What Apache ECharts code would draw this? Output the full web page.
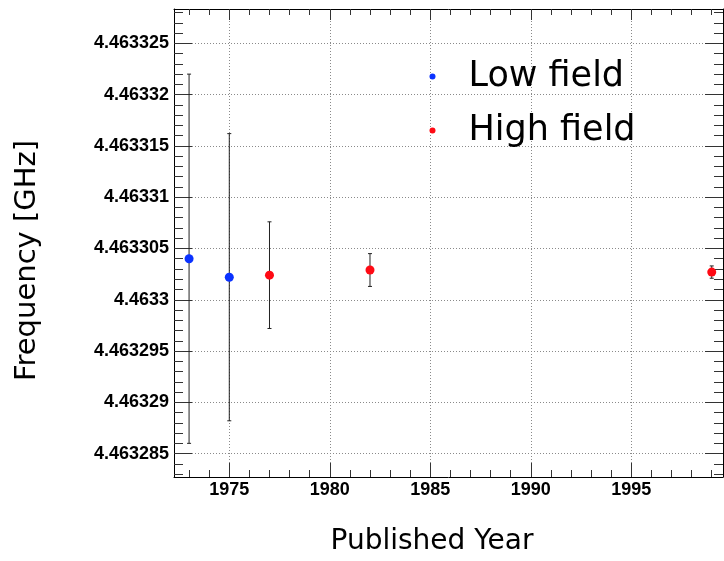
<!DOCTYPE html>
<html><head><meta charset="utf-8">
<script src="https://cdn.jsdelivr.net/npm/echarts@6/dist/echarts.min.js"></script>
<style>html,body{margin:0;padding:0;background:#fff}#c{width:724px;height:561px}</style>
</head><body><div id="c"></div>
<script>
// ---- data ----
const lowYears = [1973, 1975];
const lowFreq = [4.463304, 4.4633022];
const lowErr = [0.000018, 0.000014];
const highYears = [1977, 1982, 1999];
const highFreq = [4.4633024, 4.4633029, 4.4633027];
const highErr = [0.0000052, 0.0000016, 0.0000006];
const xTickLabels = [1975, 1980, 1985, 1990, 1995];
const yTickLabels = ['4.463285', '4.46329', '4.463295', '4.4633', '4.463305', '4.46331', '4.463315', '4.46332', '4.463325'];
const seriesNames = ['Low field', 'High field'];
// ---- axis ranges / tick positions ----
const xRange = [1972.25, 1999.56];
const yRange = [4.46328272, 4.46332835];
const xMajor = xTickLabels.slice();
const xMinor = [];
for (let yr = 1973; yr <= 1999; yr++) xMinor.push(yr);
const yMajor = yTickLabels.map(Number);
const yMinor = [];
for (let k = 4463283; k <= 4463328; k++) yMinor.push(k / 1e6);

const blue = '#0a32ff', red = '#ff0a14';
const tickColor = '#333';
function fmtY(v) { return String(parseFloat(Number(v).toFixed(6))); }
function fmtX(v) { return String(Math.round(v)); }

function xAx(pos, ticks, len, opts) {
  return Object.assign({
    type: 'value', position: pos, min: xRange[0], max: xRange[1], splitNumber: 5,
    axisLine: { show: false, onZero: false },
    axisTick: { show: true, inside: true, length: len, customValues: ticks, lineStyle: { color: tickColor, width: 1 } },
    axisLabel: { show: false },
    splitLine: { show: false }
  }, opts || {});
}
function yAx(pos, ticks, len, opts) {
  return Object.assign({
    type: 'value', position: pos, min: yRange[0], max: yRange[1], splitNumber: 9, scale: true,
    axisLine: { show: false, onZero: false },
    axisTick: { show: true, inside: true, length: len, customValues: ticks, lineStyle: { color: tickColor, width: 1 } },
    axisLabel: { show: false },
    splitLine: { show: false }
  }, opts || {});
}

const errData = lowYears.map((x, i) => [x, lowFreq[i], lowErr[i]])
  .concat(highYears.map((x, i) => [x, highFreq[i], highErr[i]]));

const chart = echarts.init(document.getElementById('c'), null, { renderer: 'canvas' });
chart.setOption({
  animation: false,
  backgroundColor: '#fff',
  grid: { left: 174, top: 9, right: 1, bottom: 84, containLabel: false, outerBoundsMode: 'none' },
  xAxis: [
    xAx('bottom', xMajor, 14, {
      axisLine: { show: true, onZero: false, lineStyle: { color: '#000', width: 1 } },
      axisLabel: { show: true, customValues: xMajor, margin: 4, fontSize: 18, fontWeight: 'bold',
        fontFamily: 'Liberation Sans, Arial, sans-serif', color: '#000', formatter: fmtX },
      splitLine: { show: true, lineStyle: { type: [1, 2], color: '#8a8a8a', width: 1 } }
    }),
    xAx('bottom', xMinor, 7),
    xAx('top', xMajor, 11, { axisLine: { show: true, onZero: false, lineStyle: { color: '#000', width: 1 } } }),
    xAx('top', xMinor, 6)
  ],
  yAxis: [
    yAx('left', yMajor, 18, {
      axisLine: { show: true, onZero: false, lineStyle: { color: '#000', width: 1 } },
      axisLabel: { show: true, customValues: yMajor, margin: 5, fontSize: 18, fontWeight: 'bold',
        fontFamily: 'Liberation Sans, Arial, sans-serif', color: '#000', formatter: fmtY },
      splitLine: { show: true, lineStyle: { type: [1, 2], color: '#8a8a8a', width: 1 } }
    }),
    yAx('left', yMinor, 9),
    yAx('right', yMajor, 18, { axisLine: { show: true, onZero: false, lineStyle: { color: '#000', width: 1 } } }),
    yAx('right', yMinor, 9)
  ],
  legend: {
    orient: 'vertical', left: 429.5, top: 59, padding: 0,
    itemWidth: 6, itemHeight: 6, itemGap: 19, icon: 'circle',
    data: seriesNames,
    textStyle: { fontSize: 35, lineHeight: 34, padding: [0, 0, 0, 28], fontFamily: 'DejaVu Sans, sans-serif', color: '#000' }
  },
  graphic: [
    { type: 'text', x: 27.5, y: 260.5, rotation: Math.PI / 2,
      style: { text: 'Frequency [GHz]', fontSize: 29, fontFamily: 'DejaVu Sans, sans-serif', fill: '#000',
        align: 'center', verticalAlign: 'middle', textAlign: 'center', textVerticalAlign: 'middle' } },
    { type: 'text', x: 432, y: 541.5,
      style: { text: 'Published Year', fontSize: 28, fontFamily: 'DejaVu Sans, sans-serif', fill: '#000',
        align: 'center', verticalAlign: 'middle', textAlign: 'center', textVerticalAlign: 'middle' } }
  ],
  series: [
    {
      type: 'custom', name: 'errors', silent: true, z: 2,
      xAxisIndex: 0, yAxisIndex: 0,
      data: errData,
      renderItem: function (params, api) {
        const x = api.value(0), y = api.value(1), e = api.value(2);
        const t = api.coord([x, y + e]), b = api.coord([x, y - e]);
        const w = 2, st = { stroke: '#222', lineWidth: 1 };
        return { type: 'group', children: [
          { type: 'line', shape: { x1: t[0], y1: t[1], x2: b[0], y2: b[1] }, style: st },
          { type: 'line', shape: { x1: t[0] - w, y1: t[1], x2: t[0] + w, y2: t[1] }, style: st },
          { type: 'line', shape: { x1: b[0] - w, y1: b[1], x2: b[0] + w, y2: b[1] }, style: st }
        ] };
      }
    },
    {
      type: 'scatter', name: seriesNames[0], z: 5, symbol: 'circle', symbolSize: 9,
      itemStyle: { color: blue, opacity: 1 },
      data: lowYears.map((x, i) => [x, lowFreq[i]])
    },
    {
      type: 'scatter', name: seriesNames[1], z: 5, symbol: 'circle', symbolSize: 9,
      itemStyle: { color: red, opacity: 1 },
      data: highYears.map((x, i) => [x, highFreq[i]])
    }
  ]
});
</script>
</body></html>
